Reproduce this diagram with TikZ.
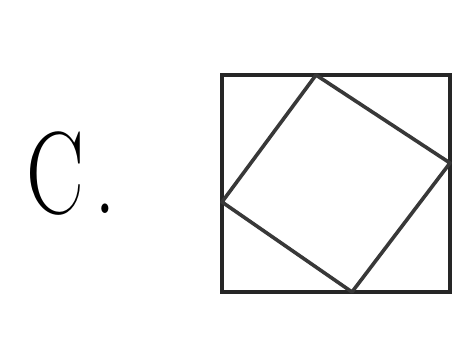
\documentclass[tikz,border=0pt]{standalone}
\begin{document}
\begin{tikzpicture}[x=1pt,y=1pt,
  outer/.style={draw=black!85,line width=4pt,line join=miter},
  inner/.style={draw=black!78,line width=3.6pt,line join=round},
  lbl/.style={inner sep=0pt,anchor=base west,font=\fontsize{117}{117}\selectfont}]
\useasboundingbox (0,0) rectangle (458,338);
\fill[white] (0,0) rectangle (458,338);
\coordinate (A) at (222,263);
\coordinate (B) at (450,263);
\coordinate (C) at (450,46);
\coordinate (D) at (222,46);
\coordinate (T) at (316,263);
\coordinate (R) at (450,175);
\coordinate (Bo) at (352,46);
\coordinate (L) at (222,136);
\draw[outer] (A) -- (B) -- (C) -- (D) -- cycle;
\draw[inner] (T) -- (R) -- (Bo) -- (L) -- cycle;
\node[lbl] (label) at (26,125) {\scalebox{0.74}[1]{C\kern14pt.}};
\end{tikzpicture}
\end{document}
